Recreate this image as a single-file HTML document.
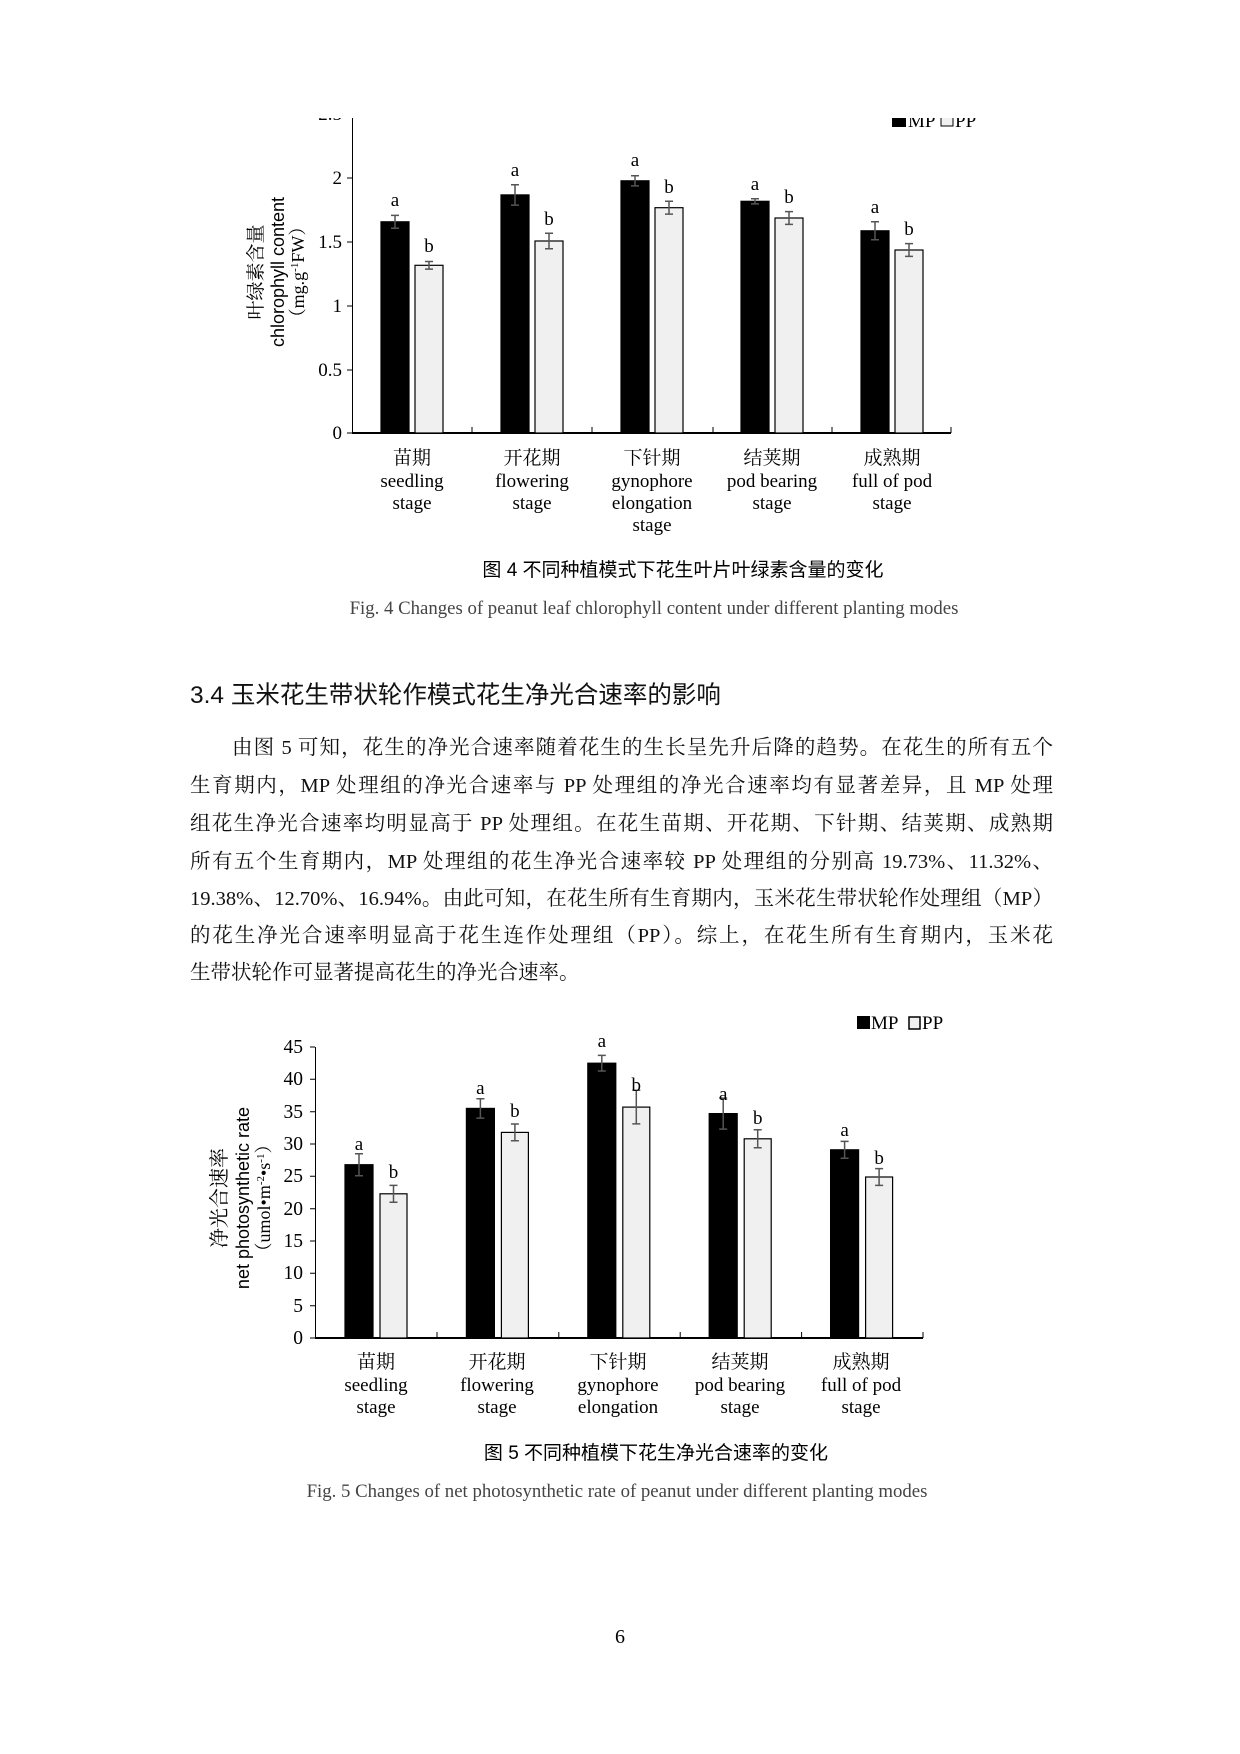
<!DOCTYPE html>
<html><head><meta charset="utf-8">
<style>
html,body{margin:0;padding:0;background:#fff;}
body{width:1240px;height:1754px;position:relative;overflow:hidden;}
.p{position:absolute;left:190px;width:863px;font-family:"Liberation Serif","Noto Serif CJK SC",serif;font-size:20.5px;color:#111;text-align:justify;text-align-last:justify;line-height:26px;}
.h{position:absolute;left:190px;top:676px;font-family:"Liberation Sans","Noto Sans CJK SC",sans-serif;font-size:24.5px;color:#111;}
svg{position:absolute;left:0;top:0;}
</style></head><body>
<svg width="1240" height="1754" viewBox="0 0 1240 1754" font-family="Liberation Serif, Noto Serif CJK SC, serif" fill="#000">
<!-- ===== Chart 1 ===== -->
<g stroke="#000" fill="none">
<line x1="352.5" y1="118" x2="352.5" y2="433"/>
<line x1="352" y1="433" x2="951" y2="433" stroke-width="2"/>
<line x1="347" y1="114" x2="352" y2="114"/>
<line x1="347" y1="178" x2="352" y2="178"/>
<line x1="347" y1="242" x2="352" y2="242"/>
<line x1="347" y1="306" x2="352" y2="306"/>
<line x1="347" y1="370" x2="352" y2="370"/>
<line x1="347" y1="433" x2="352" y2="433"/>
<line x1="472" y1="427" x2="472" y2="433"/>
<line x1="592" y1="427" x2="592" y2="433"/>
<line x1="713" y1="427" x2="713" y2="433"/>
<line x1="832" y1="427" x2="832" y2="433"/>
<line x1="951" y1="427" x2="951" y2="433"/>
</g>
<g font-size="19" text-anchor="end">
<text x="342" y="120">2.5</text>
<text x="342" y="184">2</text>
<text x="342" y="248">1.5</text>
<text x="342" y="312">1</text>
<text x="342" y="376">0.5</text>
<text x="342" y="439">0</text>
</g>
<g stroke="#000" stroke-width="1.2">
<rect x="381" y="221.8" width="28" height="211.2" fill="#000"/>
<rect x="415" y="265.3" width="28" height="167.7" fill="#f0f0f0"/>
<rect x="501" y="194.9" width="28" height="238.1" fill="#000"/>
<rect x="535" y="241" width="28" height="192" fill="#f0f0f0"/>
<rect x="621" y="180.8" width="28" height="252.2" fill="#000"/>
<rect x="655" y="207.7" width="28" height="225.3" fill="#f0f0f0"/>
<rect x="741" y="201.3" width="28" height="231.7" fill="#000"/>
<rect x="775" y="218" width="28" height="215" fill="#f0f0f0"/>
<rect x="861" y="230.8" width="28" height="202.2" fill="#000"/>
<rect x="895" y="250" width="28" height="183" fill="#f0f0f0"/>
</g>
<g stroke="#555" stroke-width="1.5" fill="none">
<path d="M395 215.4V228.2M391 215.4h8M391 228.2h8"/>
<path d="M429 261.5V269.1M425 261.5h8M425 269.1h8"/>
<path d="M515 184.7V205.1M511 184.7h8M511 205.1h8"/>
<path d="M549 233.3V248.7M545 233.3h8M545 248.7h8"/>
<path d="M635 175.7V185.9M631 175.7h8M631 185.9h8"/>
<path d="M669 201.3V214.1M665 201.3h8M665 214.1h8"/>
<path d="M755 198.7V203.9M751 198.7h8M751 203.9h8"/>
<path d="M789 211.6V224.4M785 211.6h8M785 224.4h8"/>
<path d="M875 221.8V239.8M871 221.8h8M871 239.8h8"/>
<path d="M909 243.6V256.4M905 243.6h8M905 256.4h8"/>
</g>
<g font-size="19" text-anchor="middle">
<text x="395" y="206">a</text><text x="429" y="252">b</text>
<text x="515" y="176">a</text><text x="549" y="225">b</text>
<text x="635" y="166">a</text><text x="669" y="193">b</text>
<text x="755" y="190">a</text><text x="789" y="203">b</text>
<text x="875" y="213">a</text><text x="909" y="235">b</text>
</g>
<g font-size="19" text-anchor="middle">
<text x="412" y="464">苗期</text><text x="412" y="487">seedling</text><text x="412" y="509">stage</text>
<text x="532" y="464">开花期</text><text x="532" y="487">flowering</text><text x="532" y="509">stage</text>
<text x="652" y="464">下针期</text><text x="652" y="487">gynophore</text><text x="652" y="509">elongation</text><text x="652" y="531">stage</text>
<text x="772" y="464">结荚期</text><text x="772" y="487">pod bearing</text><text x="772" y="509">stage</text>
<text x="892" y="464">成熟期</text><text x="892" y="487">full of pod</text><text x="892" y="509">stage</text>
</g>
<g text-anchor="middle" font-size="18">
<text transform="translate(262,272) rotate(-90)" font-size="19">叶绿素含量</text>
<text transform="translate(284,272) rotate(-90)" font-family="Liberation Sans, sans-serif">chlorophyll content</text>
<text transform="translate(304,272) rotate(-90)">（mg.g<tspan font-size="11" dy="-6">-1</tspan><tspan dy="6">FW）</tspan></text>
</g>
<rect x="892" y="113" width="14" height="14" fill="#000"/>
<text x="908" y="127" font-size="19">MP</text>
<rect x="941" y="114" width="12" height="12" fill="#f0f0f0" stroke="#000"/>
<text x="955" y="127" font-size="19">PP</text>
<rect x="0" y="0" width="1240" height="118" fill="#fff"/>
<text x="683" y="576" text-anchor="middle" font-size="19" font-family="Liberation Sans, Noto Sans CJK SC, sans-serif">图 4  不同种植模式下花生叶片叶绿素含量的变化</text>
<text x="654" y="614" text-anchor="middle" font-size="18.8" fill="#444">Fig. 4 Changes of peanut leaf chlorophyll content under different planting modes</text>

<!-- ===== Chart 2 ===== -->
<g stroke="#000" fill="none">
<line x1="315.5" y1="1047" x2="315.5" y2="1338"/>
<line x1="315" y1="1338" x2="923" y2="1338" stroke-width="2"/>
<path d="M310 1047h5M310 1079.3h5M310 1111.7h5M310 1144h5M310 1176.3h5M310 1208.7h5M310 1241h5M310 1273.3h5M310 1305.7h5M310 1338h5"/>
<path d="M437 1332v6M558.8 1332v6M680.2 1332v6M801.6 1332v6M923 1332v6"/>
</g>
<g font-size="19.5" text-anchor="end">
<text x="303" y="1053">45</text><text x="303" y="1085">40</text><text x="303" y="1118">35</text>
<text x="303" y="1150">30</text><text x="303" y="1182">25</text><text x="303" y="1215">20</text>
<text x="303" y="1247">15</text><text x="303" y="1279">10</text><text x="303" y="1312">5</text>
<text x="303" y="1344">0</text>
</g>
<g stroke="#000" stroke-width="1.2">
<rect x="345" y="1164.7" width="28" height="173.3" fill="#000"/>
<rect x="380" y="1193.8" width="27" height="144.2" fill="#f0f0f0"/>
<rect x="466.4" y="1108.4" width="28" height="229.6" fill="#000"/>
<rect x="501.4" y="1132.4" width="27" height="205.6" fill="#f0f0f0"/>
<rect x="587.8" y="1063.2" width="28" height="274.8" fill="#000"/>
<rect x="622.8" y="1107.1" width="27" height="230.9" fill="#f0f0f0"/>
<rect x="709.2" y="1113.6" width="28" height="224.4" fill="#000"/>
<rect x="744.2" y="1138.8" width="27" height="199.2" fill="#f0f0f0"/>
<rect x="830.6" y="1149.8" width="28" height="188.2" fill="#000"/>
<rect x="865.6" y="1177" width="27" height="161" fill="#f0f0f0"/>
</g>
<g stroke="#555" stroke-width="1.5" fill="none">
<path d="M359 1153.7V1175.7M355 1153.7h8M355 1175.7h8"/>
<path d="M393.5 1185.4V1202.2M389.5 1185.4h8M389.5 1202.2h8"/>
<path d="M480.4 1098.7V1118.1M476.4 1098.7h8M476.4 1118.1h8"/>
<path d="M514.9 1124V1140.8M510.9 1124h8M510.9 1140.8h8"/>
<path d="M601.8 1055.4V1071M597.8 1055.4h8M597.8 1071h8"/>
<path d="M636.3 1090.3V1123.9M632.3 1090.3h8M632.3 1123.9h8"/>
<path d="M723.2 1098.1V1129.1M719.2 1098.1h8M719.2 1129.1h8"/>
<path d="M757.7 1129.8V1147.8M753.7 1129.8h8M753.7 1147.8h8"/>
<path d="M844.6 1141.4V1158.2M840.6 1141.4h8M840.6 1158.2h8"/>
<path d="M879.1 1168.6V1185.4M875.1 1168.6h8M875.1 1185.4h8"/>
</g>
<g font-size="19" text-anchor="middle">
<text x="359" y="1150">a</text><text x="393.5" y="1178">b</text>
<text x="480.4" y="1094">a</text><text x="514.9" y="1117">b</text>
<text x="601.8" y="1047">a</text><text x="636.3" y="1091">b</text>
<text x="723.2" y="1100">a</text><text x="757.7" y="1124">b</text>
<text x="844.6" y="1136">a</text><text x="879.1" y="1164">b</text>
</g>
<g font-size="19" text-anchor="middle">
<text x="376" y="1368">苗期</text><text x="376" y="1391">seedling</text><text x="376" y="1413">stage</text>
<text x="497" y="1368">开花期</text><text x="497" y="1391">flowering</text><text x="497" y="1413">stage</text>
<text x="618" y="1368">下针期</text><text x="618" y="1391">gynophore</text><text x="618" y="1413">elongation</text>
<text x="740" y="1368">结荚期</text><text x="740" y="1391">pod bearing</text><text x="740" y="1413">stage</text>
<text x="861" y="1368">成熟期</text><text x="861" y="1391">full of pod</text><text x="861" y="1413">stage</text>
</g>
<g text-anchor="middle" font-size="18">
<text transform="translate(226,1198) rotate(-90)" font-size="20">净光合速率</text>
<text transform="translate(249,1198) rotate(-90)" font-family="Liberation Sans, sans-serif">net photosynthetic rate</text>
<text transform="translate(270,1198) rotate(-90)">（umol•m<tspan font-size="11" dy="-6">-2</tspan><tspan dy="6">•s</tspan><tspan font-size="11" dy="-6">-1</tspan><tspan dy="6">）</tspan></text>
</g>
<rect x="857" y="1016" width="13" height="13" fill="#000"/>
<text x="871" y="1029" font-size="19">MP</text>
<rect x="909" y="1017" width="11" height="12" fill="#f0f0f0" stroke="#000" stroke-width="1.5"/>
<text x="922" y="1029" font-size="19">PP</text>
<text x="656" y="1459" text-anchor="middle" font-size="19" font-family="Liberation Sans, Noto Sans CJK SC, sans-serif">图 5  不同种植模下花生净光合速率的变化</text>
<text x="617" y="1497" text-anchor="middle" font-size="18.8" fill="#444">Fig. 5 Changes of net photosynthetic rate of peanut under different planting modes</text>
<text x="620" y="1643" text-anchor="middle" font-size="20">6</text>
</svg>
<div class="h">3.4 玉米花生带状轮作模式花生净光合速率的影响</div>
<div class="p" style="top:735px;padding-left:42px;width:821px;">由图 5 可知，花生的净光合速率随着花生的生长呈先升后降的趋势。在花生的所有五个</div>
<div class="p" style="top:773px;">生育期内，MP 处理组的净光合速率与 PP 处理组的净光合速率均有显著差异，且 MP 处理</div>
<div class="p" style="top:811px;">组花生净光合速率均明显高于 PP 处理组。在花生苗期、开花期、下针期、结荚期、成熟期</div>
<div class="p" style="top:849px;">所有五个生育期内，MP 处理组的花生净光合速率较 PP 处理组的分别高 19.73%、11.32%、</div>
<div class="p" style="top:886px;">19.38%、12.70%、16.94%。由此可知，在花生所有生育期内，玉米花生带状轮作处理组（MP）</div>
<div class="p" style="top:923px;">的花生净光合速率明显高于花生连作处理组（PP）。综上，在花生所有生育期内，玉米花</div>
<div class="p" style="top:960px;text-align-last:left;">生带状轮作可显著提高花生的净光合速率。</div>
</body></html>
